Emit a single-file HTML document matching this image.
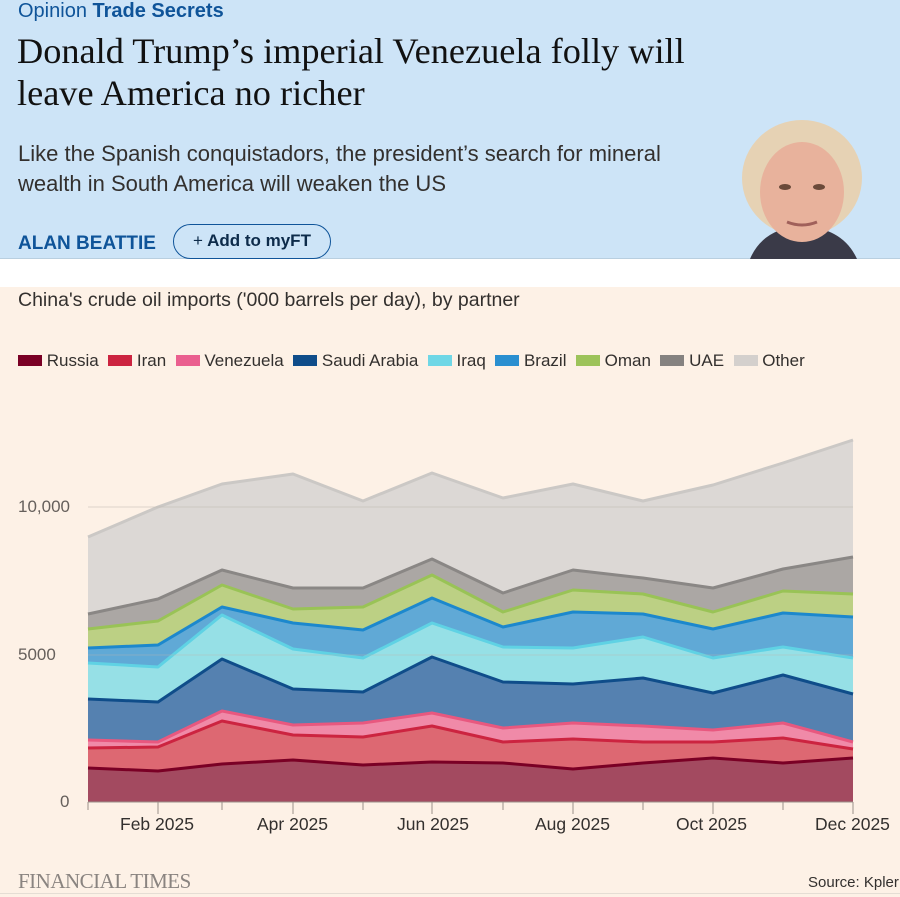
<!DOCTYPE html>
<html><head><meta charset="utf-8"><style>
body{margin:0;width:900px;height:897px;overflow:hidden;background:#fdf1e6;font-family:"Liberation Sans",sans-serif;position:relative}
.hdr{position:absolute;left:0;top:0;width:900px;height:258px;background:#cde4f7}
.wh{position:absolute;left:0;top:258px;width:900px;height:28px;background:#fff;border-top:1px solid #b9cfe0}
.t{position:absolute;white-space:nowrap}
.lg span{display:inline-block;width:24px;height:11px;vertical-align:0px}
</style></head><body>
<div class="hdr"></div>
<div class="wh"></div>
<div class="t" style="left:18px;top:0px;font-size:20px;color:#0f5499">Opinion <b>Trade Secrets</b></div>
<div class="t" style="left:17px;top:30px;font-family:'Liberation Serif',serif;font-size:36.3px;line-height:42px;color:#111">Donald Trump’s imperial Venezuela folly will<br>leave America no richer</div>
<div class="t" style="left:18px;top:139px;font-size:22px;line-height:30px;color:#33302e">Like the Spanish conquistadors, the president’s search for mineral<br>wealth in South America will weaken the US</div>
<div class="t" style="left:18px;top:233px;font-size:19px;font-weight:bold;color:#0f5499">ALAN BEATTIE</div>
<div class="t" style="left:173px;top:224px;width:158px;height:35px;border:1.5px solid #0f5499;border-radius:18px;box-sizing:border-box;font-size:17px;font-weight:bold;color:#0d2b4a;line-height:32px;text-align:center"><span style="font-weight:normal">+</span> Add to myFT</div>
<svg class="t" style="left:735px;top:110px" width="135" height="149">
<path d="M15 149 Q28 118 67 116 Q108 118 122 149Z" fill="#3a3a48"/>
<ellipse cx="67" cy="68" rx="60" ry="58" fill="#e6d2b4"/>
<ellipse cx="67" cy="82" rx="42" ry="50" fill="#e8b29c"/>
<ellipse cx="50" cy="77" rx="6" ry="3" fill="#6b4a3a"/><ellipse cx="84" cy="77" rx="6" ry="3" fill="#6b4a3a"/>
<path d="M52 112 Q67 118 82 112" stroke="#a0605a" stroke-width="3" fill="none"/>
</svg>
<div class="t" style="left:18px;top:289px;font-size:19.5px;color:#33302e">China's crude oil imports ('000 barrels per day), by partner</div>
<div class="t lg" style="left:18px;top:351px;font-size:17px;color:#33302e;line-height:20px">
<span style="background:#7a0025"></span> Russia&nbsp;
<span style="background:#cc2440"></span> Iran&nbsp;
<span style="background:#ea5f8f"></span> Venezuela&nbsp;
<span style="background:#0f4d8a"></span> Saudi Arabia&nbsp;
<span style="background:#6fd7e6"></span> Iraq&nbsp;
<span style="background:#2a8fd0"></span> Brazil&nbsp;
<span style="background:#9dc35a"></span> Oman&nbsp;
<span style="background:#858280"></span> UAE&nbsp;
<span style="background:#d4d0cd"></span> Other</div>
<svg class="t" style="left:0;top:0" width="900" height="897" id="c"></svg>
<div class="t" style="left:18px;top:497px;font-size:17px;color:#66605c">10,000</div>
<div class="t" style="left:18px;top:645px;font-size:17px;color:#66605c">5000</div>
<div class="t" style="left:60px;top:792px;font-size:17px;color:#66605c">0</div>
<div class="t" style="left:120px;top:814px;font-size:17.5px;color:#33302e">Feb 2025</div>
<div class="t" style="left:257px;top:814px;font-size:17.5px;color:#33302e">Apr 2025</div>
<div class="t" style="left:397px;top:814px;font-size:17.5px;color:#33302e">Jun 2025</div>
<div class="t" style="left:535px;top:814px;font-size:17.5px;color:#33302e">Aug 2025</div>
<div class="t" style="left:676px;top:814px;font-size:17.5px;color:#33302e">Oct 2025</div>
<div class="t" style="left:815px;top:814px;font-size:17.5px;color:#33302e">Dec 2025</div>
<div class="t" style="left:18px;top:869px;font-family:'Liberation Serif',serif;font-size:21px;color:#8a8480;letter-spacing:-0.5px">FINANCIAL TIMES</div>
<div class="t" style="left:808px;top:874px;font-size:15px;color:#33302e">Source: Kpler</div>
<div class="t" style="left:0;top:893px;width:900px;height:1px;background:#e5ddd4"></div>
<script>
var X=[88,158,222,293,363,432,503,573,643,713,783,853];
var B=[
[768,771,764,760,765,762,763,769,763,758,763,758],
[748,747,721,735,737,726,742,739,742,742,738,749],
[740,742,711,725,723,713,728,723,726,730,723,742],
[699,702,659,689,692,657,682,684,678,693,675,694],
[663,667,615,649,658,623,647,648,637,658,647,658],
[648,645,607,623,630,598,627,612,614,629,613,617],
[629,621,585,609,607,575,612,590,594,612,591,594],
[614,599,570,588,588,559,593,570,578,588,569,557],
[537,507,484,474,501,473,498,484,501,485,463,440]];
var F=['#a34a60','#dd6872','#f08aa8','#5581b0','#96e0e6','#60a9d6','#bcd084','#aba7a4','#dcd8d5'];
var L=['#7a0025','#cc2440','#e8587f','#0f4d8a','#5fd2e4','#1c88cd','#99c356','#8a8785','#cbc8c5'];
var s='';
var prev=X.map(function(){return 802});
for(var i=0;i<9;i++){var p='';for(var j=0;j<12;j++)p+=X[j]+','+B[i][j]+' ';for(var j=11;j>=0;j--)p+=X[j]+','+prev[j]+' ';
s+='<polygon points="'+p+'" fill="'+F[i]+'"/>';prev=B[i];}
for(var i=0;i<9;i++){var p='';for(var j=0;j<12;j++)p+=X[j]+','+B[i][j]+' ';s+='<polyline points="'+p+'" fill="none" stroke="'+L[i]+'" stroke-width="3" stroke-linejoin="round"/>';}
s+='<line x1="88" y1="507" x2="853" y2="507" stroke="#bdb5ad" stroke-opacity="0.5"/><line x1="88" y1="655" x2="853" y2="655" stroke="#bdb5ad" stroke-opacity="0.4"/>';
s+='<line x1="88" y1="802" x2="853" y2="802" stroke="#9a918a"/>';
for(var j=0;j<12;j++)s+='<line x1="'+X[j]+'" y1="802" x2="'+X[j]+'" y2="'+(j%2?814:810)+'" stroke="#9a918a"/>';
document.getElementById('c').innerHTML=s;
</script>
</body></html>
